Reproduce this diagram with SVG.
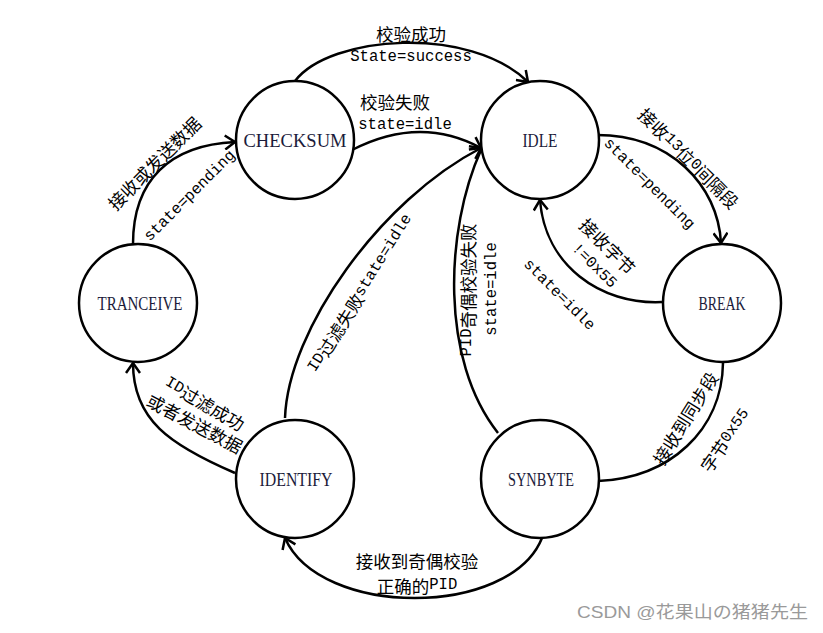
<svg xmlns="http://www.w3.org/2000/svg" width="823" height="633" viewBox="0 0 823 633">
<style>
.node{fill:#fff;stroke:#000;stroke-width:2.5}
.nl{font-family:"Liberation Serif",serif;font-size:19px;fill:#1b1b3a;text-anchor:middle}
.edge{fill:none;stroke:#000;stroke-width:2.5}
.lb{font-family:"Noto Sans CJK SC",sans-serif;font-size:17.5px;fill:#000;text-anchor:middle;dominant-baseline:central}
.m{font-family:"Liberation Mono",monospace;font-size:15.6px}
.wm{font-family:"Liberation Sans","Noto Sans CJK SC",sans-serif;font-size:17px;fill:#9a9a9a}
</style>
<defs>
<marker id="arr" viewBox="-12 -8 14 16" refX="0" refY="0" markerWidth="14" markerHeight="16" markerUnits="userSpaceOnUse" orient="auto">
<path d="M-10,-7 L0,0 L-10,7" fill="none" stroke="#000" stroke-width="2.5"/>
</marker>
</defs>
<rect width="823" height="633" fill="#fff"/>
<g id="connectors">
<path class="edge" d="M295,81 C330,35 470,25 528,82" marker-end="url(#arr)"/>
<path class="edge" d="M352,150 Q420,115 481,148" marker-end="url(#arr)"/>
<path class="edge" d="M597,135 C670,135 718,185 721,243" marker-end="url(#arr)"/>
<path class="edge" d="M662,302 C600,305 545,265 540,200" marker-end="url(#arr)"/>
<path class="edge" d="M133,244 C133,180 170,145 235,142" marker-end="url(#arr)"/>
<path class="edge" d="M235,473 C170,445 133,420 133,363" marker-end="url(#arr)"/>
<path class="edge" d="M598,481 C670,478 722,430 723,363"/>
<path class="edge" d="M542,538 C510,618 320,618 285,538" marker-end="url(#arr)"/>
<path class="edge" d="M285,418 C288,330 380,200 481,148" marker-end="url(#arr)"/>
<path class="edge" d="M498,433 C440,360 445,230 481,150"/>
</g>
<g id="labels">
<text class="lb" x="411" y="33">校验成功</text>
<text class="lb m" x="411" y="57">State=success</text>
<text class="lb" x="395" y="101">校验失败</text>
<text class="lb m" x="405" y="125">state=idle</text>
<text class="lb" transform="translate(154,163) rotate(-45)">接收或发送数据</text>
<text class="lb m" transform="translate(190,196) rotate(-45)">state=pending</text>
<text class="lb" transform="translate(689,158) rotate(45)">接收<tspan class="m">13</tspan>位<tspan class="m">0</tspan>间隔段</text>
<text class="lb m" transform="translate(649,184) rotate(45)">state=pending</text>
<text class="lb" transform="translate(608,246) rotate(45)">接收字节</text>
<text class="lb m" transform="translate(594,266) rotate(45)">!=0x55</text>
<text class="lb m" transform="translate(559,295) rotate(45)">state=idle</text>
<text class="lb" transform="translate(360,293) rotate(-58)"><tspan class="m">ID</tspan>过滤失败<tspan class="m">state=idle</tspan></text>
<text class="lb" transform="translate(467,290) rotate(-90)"><tspan class="m">PID</tspan>奇偶校验失败</text>
<text class="lb m" transform="translate(492,289) rotate(-90)">state=idle</text>
<text class="lb" transform="translate(205,403) rotate(30)"><tspan class="m">ID</tspan>过滤成功</text>
<text class="lb" transform="translate(195,423) rotate(28)">或者发送数据</text>
<text class="lb" transform="translate(685,418) rotate(-58)">接收到同步段</text>
<text class="lb" transform="translate(725,440) rotate(-55)">字节<tspan class="m">0x55</tspan></text>
<text class="lb" x="417" y="560">接收到奇偶校验</text>
<text class="lb" x="417" y="585">正确的<tspan class="m">PID</tspan></text>
</g>
<g id="CHECKSUM"><circle class="node" cx="295" cy="140" r="59"/><text class="nl" x="295" y="147" textLength="103" lengthAdjust="spacingAndGlyphs">CHECKSUM</text></g>
<g id="IDLE"><circle class="node" cx="540" cy="140" r="59"/><text class="nl" x="540" y="147" textLength="35" lengthAdjust="spacingAndGlyphs">IDLE</text></g>
<g id="TRANCEIVE"><circle class="node" cx="138" cy="303" r="59"/><text class="nl" x="140" y="310" textLength="85" lengthAdjust="spacingAndGlyphs">TRANCEIVE</text></g>
<g id="BREAK"><circle class="node" cx="722" cy="303" r="59"/><text class="nl" x="722" y="310" textLength="47" lengthAdjust="spacingAndGlyphs">BREAK</text></g>
<g id="IDENTIFY"><circle class="node" cx="295" cy="479" r="59"/><text class="nl" x="296" y="486" textLength="73" lengthAdjust="spacingAndGlyphs">IDENTIFY</text></g>
<g id="SYNBYTE"><circle class="node" cx="540" cy="479" r="59"/><text class="nl" x="541" y="486" textLength="66" lengthAdjust="spacingAndGlyphs">SYNBYTE</text></g>
<text class="wm" x="577" y="618" textLength="231" lengthAdjust="spacingAndGlyphs">CSDN @花果山の猪猪先生</text>
</svg>
